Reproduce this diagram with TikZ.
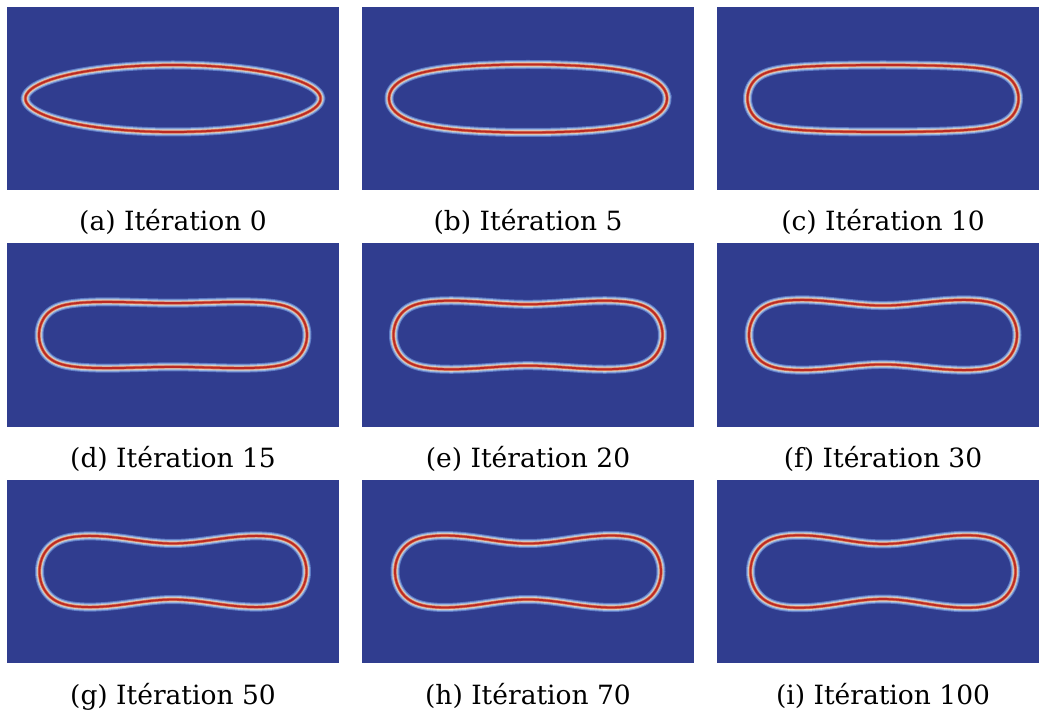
\documentclass[tikz,border=0pt]{standalone}
\usepackage{fontspec}
\setmainfont{DejaVu Serif}
\usepackage{tikz}

\definecolor{fieldblue}{RGB}{48,61,143}
\definecolor{haloout}{RGB}{92,122,196}
\definecolor{haloin}{RGB}{150,176,222}
\definecolor{cream}{RGB}{216,208,196}
\definecolor{rim}{RGB}{222,118,86}
\definecolor{corered}{RGB}{186,42,36}

\begin{document}
\begin{tikzpicture}[x=1pt, y=-1pt,
    declare function={bend(\u,\k)=tanh(\k*\u)/tanh(\k);}]
    \tikzstyle{field} = [fill=fieldblue]
    \tikzstyle{contour} = [line width=1.8pt, draw=corered, line join=round,
        preaction={draw=haloout, line width=9pt},
        preaction={draw=haloin, line width=7pt},
        preaction={draw=cream, line width=5pt},
        preaction={draw=rim, line width=3.2pt}]
    \tikzstyle{caption} = [anchor=base, inner sep=0pt, font=\fontsize{26.5}{30}\selectfont]

    \useasboundingbox (0,0) rectangle (1039,711);
    \clip (0,0) rectangle (1039,711);

    % panel / iteration / column / row / half width / end radius / squareness / waist
    \foreach \lab/\iter/\col/\row/\ax/\by/\kk/\wa in {
        a/0/0/0/147.5/33.5/0.2/0,
        b/5/1/0/139/34/1.3/0,
        c/10/2/0/135.5/33.5/2.5/0,
        d/15/0/1/134/35/3/0.09,
        e/20/1/1/134.5/37/3/0.17,
        f/30/2/1/134/38.5/3/0.235,
        g/50/0/2/133.5/39.5/3/0.29,
        h/70/1/2/133/40/3/0.3,
        i/100/2/2/132.5/40.5/3/0.32} {
        \begin{scope}[shift={(7+355*\col, 7+236.5*\row)}]
            \fill[field] (0,0) rectangle (332,183);
            \draw[contour] plot[domain=0:360, samples=541, variable=\t]
                ({166 + (\ax-\by)*bend(cos(\t),\kk) + \by*cos(\t)},
                 {91.5 + \by*sin(\t)*(1 - \wa*exp(-(((\ax-\by)*bend(cos(\t),\kk) + \by*cos(\t))/62)^2))}) -- cycle;
            \node[caption] (cap-\lab) at (166,224) {(\lab) Itération \iter};
        \end{scope}
    }
\end{tikzpicture}
\end{document}
